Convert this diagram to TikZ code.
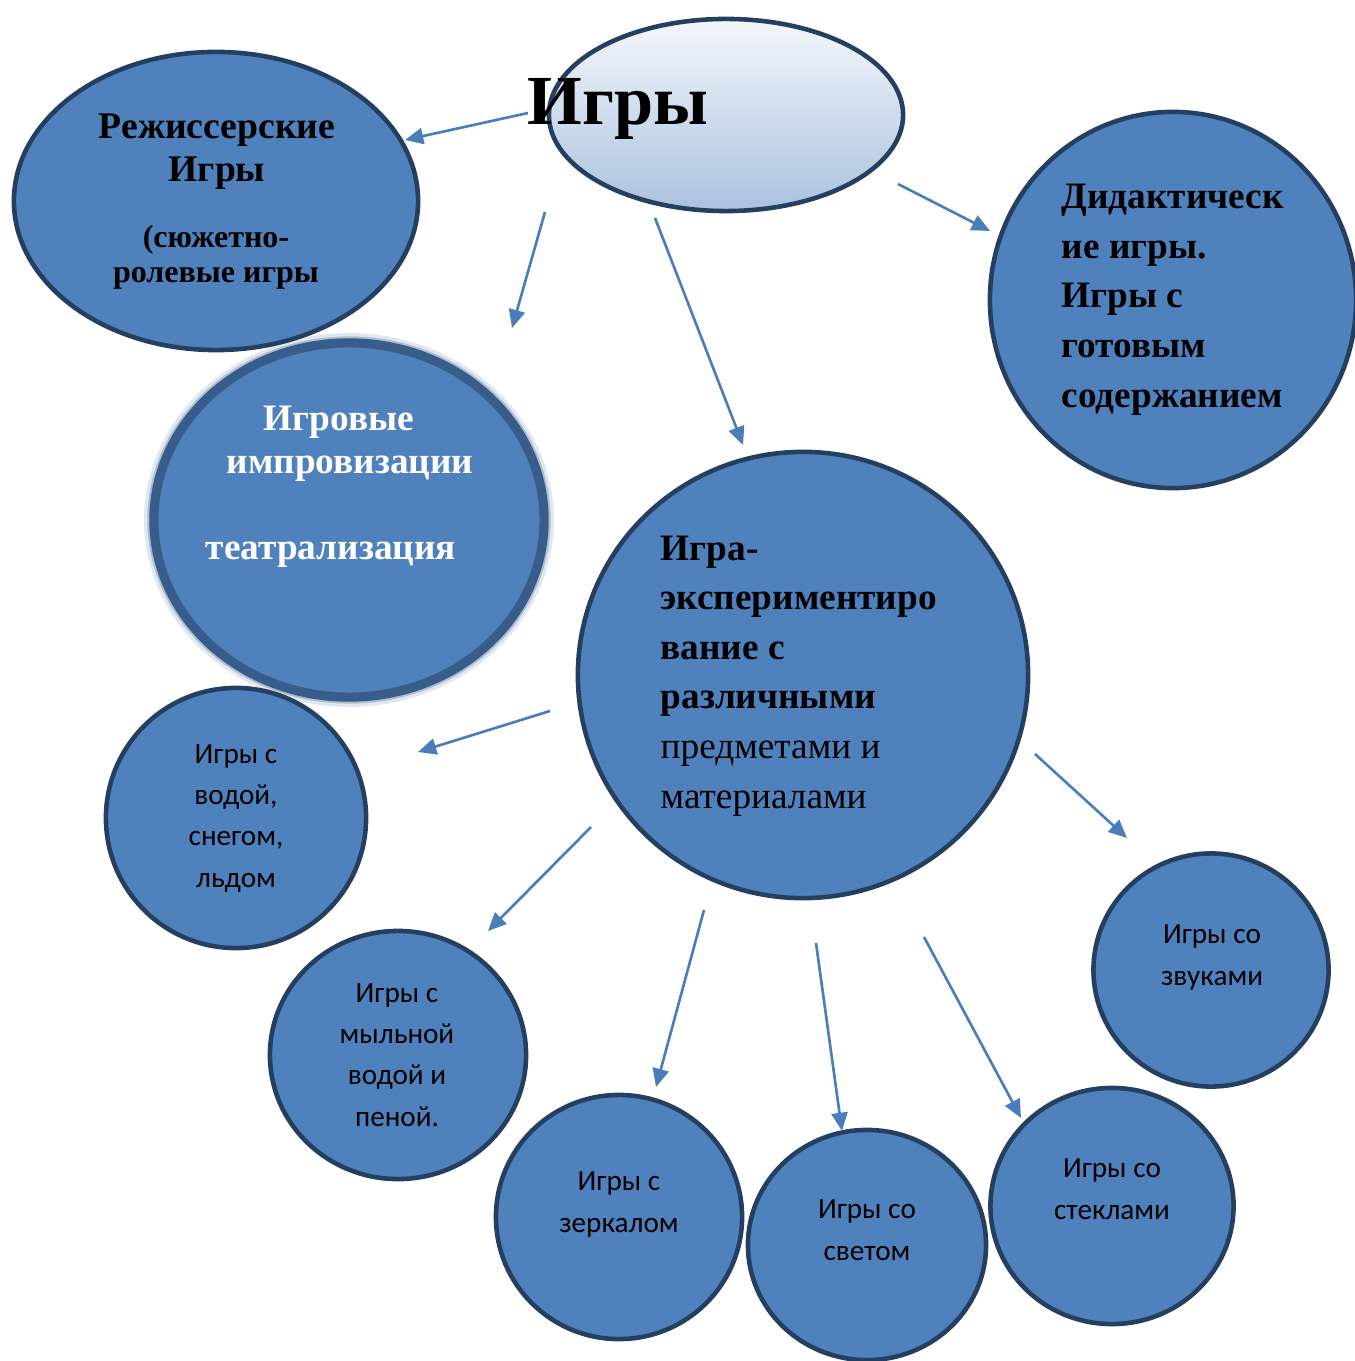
\documentclass[tikz,border=0pt]{standalone}
\usepackage{fontspec}
\setmainfont{Liberation Serif}
\newfontfamily\calibfont{Carlito}
\usetikzlibrary{shapes.geometric,arrows.meta}
\definecolor{ballfill}{HTML}{4F81BD}
\definecolor{balledge}{HTML}{243F60}
\definecolor{bluredge}{HTML}{385D8A}
\definecolor{arrowc}{HTML}{4A7EBB}
\definecolor{shadetop}{HTML}{F4F7FB}
\definecolor{shadebot}{HTML}{AAC2DF}
\tikzset{
	ball/.style={ellipse, draw=balledge, line width=1.3pt, fill=ballfill, inner sep=0pt},
	arr/.style={arrowc, line width=0.75pt, -{Triangle[length=5.2pt,width=4.6pt]}},
	bigtxt/.style={font=\fontsize{10.6}{14.1}\selectfont\bfseries, anchor=base, inner sep=0pt},
	smalltxt/.style={font=\calibfont\fontsize{8.3}{11.75}\selectfont, align=center, anchor=base, inner sep=0pt},
}

\begin{document}
\begin{tikzpicture}[x=0.01cm, y=-0.01cm]
	\useasboundingbox (0,0) rectangle (1354,1361);

	\draw[bluredge, line width=3pt, opacity=.15] (349,520) ellipse [x radius=1.995cm, y radius=1.815cm];
	\draw[bluredge, line width=2pt, opacity=.3] (349,520) ellipse [x radius=1.98cm, y radius=1.80cm];
	\node[ball, draw=bluredge, line width=2.6pt, minimum width=3.9cm, minimum height=3.54cm] (improv) at (349,520) {};
	\node[ball, minimum width=4.04cm, minimum height=2.98cm] (rezh) at (216,201) {};
	\node[ball, top color=shadetop, bottom color=shadebot, minimum width=3.54cm, minimum height=1.92cm] (igry) at (726,115) {};
	\node[ball, minimum width=3.66cm, minimum height=3.76cm] (didakt) at (1173,300) {};
	\node[ball, minimum width=4.5cm, minimum height=4.46cm] (eksp) at (803,675) {};
	\node[ball, minimum width=2.6cm, minimum height=2.6cm] (voda) at (236,818) {};
	\node[ball, minimum width=2.56cm, minimum height=2.48cm] (mylo) at (398,1055) {};
	\node[ball, minimum width=2.46cm, minimum height=2.44cm] (zerk) at (619,1217) {};
	\node[ball, minimum width=2.38cm, minimum height=2.3cm] (svet) at (867,1245) {};
	\node[ball, minimum width=2.43cm, minimum height=2.36cm] (stekla) at (1112,1206) {};
	\node[ball, minimum width=2.35cm, minimum height=2.33cm] (zvuk) at (1211,970) {};

	\node[font=\fontsize{20}{24}\selectfont\bfseries, anchor=base, inner sep=0pt] (t-igry) at (618,125) {Игры};
	\node[font=\fontsize{10.7}{12.3}\selectfont\bfseries, align=center, anchor=base, inner sep=0pt] (t-rezh) at (217,182) {Режиссерские\\Игры};
	\node[font=\fontsize{9.1}{10}\selectfont\bfseries, align=center, anchor=base, inner sep=0pt] (t-rezh2) at (216,283) {(сюжетно-\\ролевые игры};
	\node[bigtxt, white] (t-impr1) at (339,430) {Игровые};
	\node[bigtxt, white] (t-impr2) at (350,473) {импровизации};
	\node[bigtxt, white] (t-impr3) at (331,559) {театрализация};
	\node[bigtxt, align=left, anchor=base west] (t-didakt) at (1061,407) {Дидактическ\\ие игры.\\Игры с\\готовым\\содержанием};
	\node[bigtxt, align=left, anchor=base west] (t-eksp) at (660,808) {Игра-\\экспериментиро\\вание с\\различными\\\mdseries предметами и\\\mdseries материалами};
	\node[smalltxt] (t-voda) at (236,887) {Игры с\\водой,\\снегом,\\льдом};
	\node[smalltxt] (t-mylo) at (397,1126) {Игры с\\мыльной\\водой и\\пеной.};
	\node[smalltxt] (t-zerk) at (619,1232) {Игры с\\зеркалом};
	\node[smalltxt] (t-svet) at (867,1260) {Игры со\\светом};
	\node[smalltxt] (t-stekla) at (1112,1219) {Игры со\\стеклами};
	\node[smalltxt] (t-zvuk) at (1212,985) {Игры со\\звуками};

	\coordinate (a1s) at (528,113);  \coordinate (a1e) at (405,140);
	\coordinate (a2s) at (545,212);  \coordinate (a2e) at (512,328);
	\coordinate (a3s) at (655,218);  \coordinate (a3e) at (743,445);
	\coordinate (a4s) at (898,184);  \coordinate (a4e) at (990,231);
	\coordinate (a5s) at (550,711);  \coordinate (a5e) at (418,752);
	\coordinate (a6s) at (591,827);  \coordinate (a6e) at (488,931);
	\coordinate (a7s) at (704,910);  \coordinate (a7e) at (656,1087);
	\coordinate (a8s) at (816,943);  \coordinate (a8e) at (842,1131);
	\coordinate (a9s) at (924,937);  \coordinate (a9e) at (1021,1118);
	\coordinate (a10s) at (1035,754); \coordinate (a10e) at (1127,838);
	\foreach \i in {1,...,10}
		\draw[arr] (a\i s) -- (a\i e);
\end{tikzpicture}
\end{document}
